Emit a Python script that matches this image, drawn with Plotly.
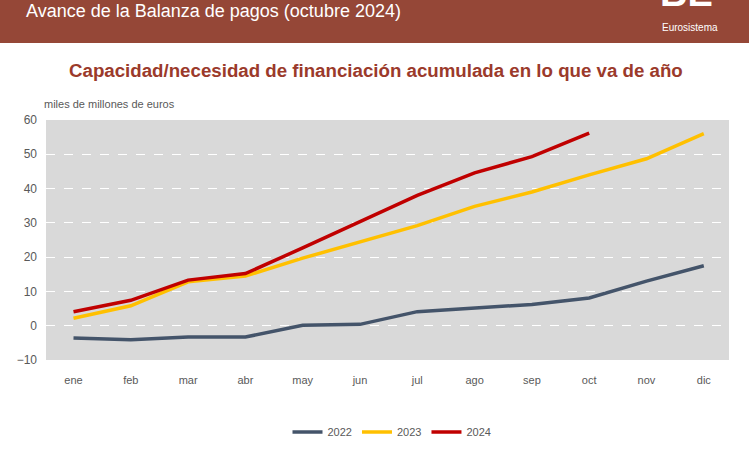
import plotly.graph_objects as go

months = ["ene", "feb", "mar", "abr", "may", "jun", "jul", "ago", "sep", "oct", "nov", "dic"]
s2022 = [-3.6, -4.1, -3.3, -3.3, 0.1, 0.4, 4.1, 5.2, 6.2, 8.1, 13.0, 17.5]
s2023 = [2.2, 5.8, 12.8, 14.5, 19.7, 24.4, 29.2, 34.8, 39.0, 44.0, 48.7, 56.0]
s2024 = [4.1, 7.4, 13.3, 15.2, 22.7, 30.3, 38.0, 44.6, 49.3, 56.2]
names = ["2022", "2023", "2024"]
colors = ["#44546A", "#FFC000", "#C00000"]
yticks = [-10, 0, 10, 20, 30, 40, 50, 60]

W, H = 749, 450
L, R, T, B = 46, 20, 120, 90
pw, ph = W - L - R, H - T - B

def px(x):
    return (x - L) / pw

def py(y):
    return (H - B - y) / ph

fig = go.Figure()
for nm, data, c in zip(names, [s2022, s2023, s2024], colors):
    fig.add_trace(go.Scatter(x=months[:len(data)], y=data, name=nm, mode="lines",
                             line=dict(color=c, width=3.5)))

fig.update_layout(
    width=W, height=H,
    margin=dict(l=L, r=R, t=T, b=B, autoexpand=False),
    paper_bgcolor="white", plot_bgcolor="#D9D9D9",
    font=dict(family="Liberation Sans, Arial, sans-serif", color="#595959", size=11),
    showlegend=True,
    legend=dict(orientation="h", x=px(392), xanchor="center", y=py(432), yanchor="middle",
                font=dict(size=11, color="#595959"), itemwidth=30, tracegroupgap=0),
    xaxis=dict(type="category", range=[-0.48, 11.44], showgrid=False, zeroline=False,
               showline=False, ticks="", ticklabelstandoff=12,
               tickfont=dict(size=11, color="#595959")),
    yaxis=dict(range=[-10, 60], tickvals=yticks, showgrid=True, gridcolor="white",
               griddash="dash", gridwidth=1, zeroline=False, showline=False,
               ticks="", ticklabelstandoff=8, tickfont=dict(size=12, color="#595959")),
    shapes=[dict(type="rect", xref="paper", yref="paper", x0=px(0), x1=px(W),
                 y0=py(43), y1=py(0), fillcolor="#954737", line=dict(width=0), layer="below")],
    annotations=[
        dict(text="Avance de la Balanza de pagos (octubre 2024)", xref="paper", yref="paper",
             x=px(24), y=py(11), xanchor="left", yanchor="middle", showarrow=False,
             font=dict(family="Liberation Sans", size=18, color="white")),
        dict(text="<b>BE</b>", xref="paper", yref="paper",
             x=px(658), y=py(16), xanchor="left", yanchor="bottom", showarrow=False,
             font=dict(family="Liberation Sans", size=38, color="white")),
        dict(text="Eurosistema", xref="paper", yref="paper",
             x=px(660), y=py(27), xanchor="left", yanchor="middle", showarrow=False,
             font=dict(family="Liberation Sans", size=10, color="white")),
        dict(text="<b>Capacidad/necesidad de financiación acumulada en lo que va de año</b>",
             xref="paper", yref="paper", x=px(376), y=py(70), xanchor="center", yanchor="middle",
             showarrow=False, font=dict(family="Liberation Sans", size=18.7, color="#9B3A2B")),
        dict(text="miles de millones de euros", xref="paper", yref="paper",
             x=px(42), y=py(104), xanchor="left", yanchor="middle", showarrow=False,
             font=dict(size=11, color="#595959")),
    ],
)

fig.write_html("out.html")
